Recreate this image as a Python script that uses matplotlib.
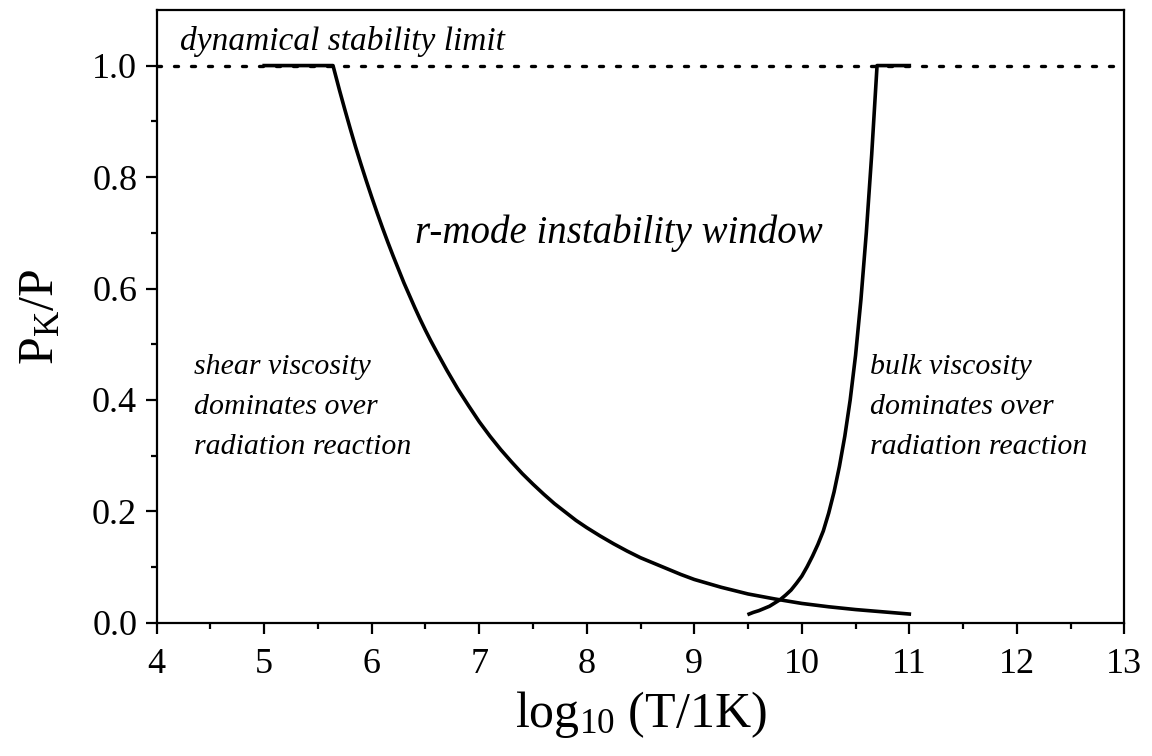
import numpy as np
import matplotlib.pyplot as plt

plt.rcParams['font.family'] = ['Liberation Serif', 'DejaVu Serif']
plt.rcParams['mathtext.fontset'] = 'custom'
plt.rcParams['mathtext.rm'] = 'Liberation Serif'
plt.rcParams['mathtext.it'] = 'Liberation Serif:italic'

# shear viscosity boundary, log10(T) vs P_K/P
shear_x = [5.0, 5.64, 5.67, 5.7, 5.75, 5.8, 5.85, 5.9, 5.95, 6.0, 6.05, 6.1, 6.15,
           6.2, 6.25, 6.3, 6.35, 6.4, 6.45, 6.5, 6.55, 6.6, 6.7, 6.8, 6.9, 7.0,
           7.1, 7.2, 7.3, 7.4, 7.5, 7.6, 7.7, 7.8, 7.9, 8.0, 8.125, 8.25, 8.375,
           8.5, 8.625, 8.75, 8.875, 9.0, 9.25, 9.5, 9.75, 10.0, 10.25, 10.5,
           10.75, 11.0]
shear_y = [1.0, 1.0, 0.978, 0.956, 0.921, 0.887, 0.854, 0.823, 0.793, 0.764, 0.736,
           0.709, 0.683, 0.658, 0.634, 0.610, 0.588, 0.566, 0.545, 0.525, 0.506,
           0.488, 0.453, 0.420, 0.390, 0.361, 0.335, 0.311, 0.289, 0.268, 0.249,
           0.231, 0.214, 0.199, 0.184, 0.171, 0.156, 0.142, 0.129, 0.117, 0.107,
           0.097, 0.087, 0.078, 0.064, 0.052, 0.043, 0.035, 0.029, 0.024, 0.020,
           0.016]

# bulk viscosity boundary
bulk_x = [9.51, 9.55, 9.6, 9.65, 9.7, 9.75, 9.8, 9.85, 9.9, 9.95, 10.0, 10.05,
          10.1, 10.15, 10.2, 10.25, 10.3, 10.35, 10.4, 10.45, 10.5, 10.55, 10.6,
          10.65, 10.7, 11.0]
bulk_y = [0.016, 0.019, 0.022, 0.026, 0.030, 0.036, 0.042, 0.050, 0.059, 0.071,
          0.084, 0.101, 0.12, 0.141, 0.165, 0.197, 0.235, 0.281, 0.335, 0.400,
          0.48, 0.58, 0.70, 0.84, 1.0, 1.0]

limit_y = 1.0

fig = plt.figure(figsize=(11.52, 7.56), dpi=100)
ax = fig.add_axes([0.136, 0.176, 0.84, 0.811])

ax.axhline(limit_y, color='black', lw=2.4, linestyle=(0, (1.2, 3.9)),
           dash_capstyle='round')
ax.plot(shear_x, shear_y, color='black', lw=2.6)
ax.plot(bulk_x, bulk_y, color='black', lw=2.6)

ax.set_xlim(4, 13)
ax.set_ylim(0, 1.1)
ax.set_xticks(np.arange(4, 14, 1))
ax.set_xticks(np.arange(4.5, 13, 1), minor=True)
ax.set_yticks(np.arange(0, 1.01, 0.2))
ax.set_yticks(np.arange(0.1, 1.1, 0.2), minor=True)
ax.yaxis.set_major_formatter(plt.FormatStrFormatter('%.1f'))

ax.tick_params(which='both', direction='out', top=False, right=False,
               width=1.6, labelsize=26)
ax.tick_params(axis='x', which='major', length=8, pad=10)
ax.tick_params(axis='y', which='major', length=8, pad=6)
ax.tick_params(which='minor', length=4.5)
for sp in ax.spines.values():
    sp.set_linewidth(1.6)

ax.set_xlabel(r'log$_{10}$ (T/1K)', fontsize=36, labelpad=6)
ax.set_ylabel(r'P$_{\mathrm{K}}$/P', fontsize=36, labelpad=20)

ax.text(4.22, 1.043, 'dynamical stability limit', style='italic',
        fontsize=24, va='center')
ax.text(8.3, 0.70, 'r-mode instability window', style='italic',
        fontsize=28, ha='center', va='center')
ax.text(4.35, 0.388, 'shear viscosity\ndominates over\nradiation reaction',
        style='italic', fontsize=21.5, va='center', linespacing=1.7)
ax.text(10.63, 0.388, 'bulk viscosity\ndominates over\nradiation reaction',
        style='italic', fontsize=21.5, va='center', linespacing=1.7)

fig.savefig('out.png', dpi=100)
